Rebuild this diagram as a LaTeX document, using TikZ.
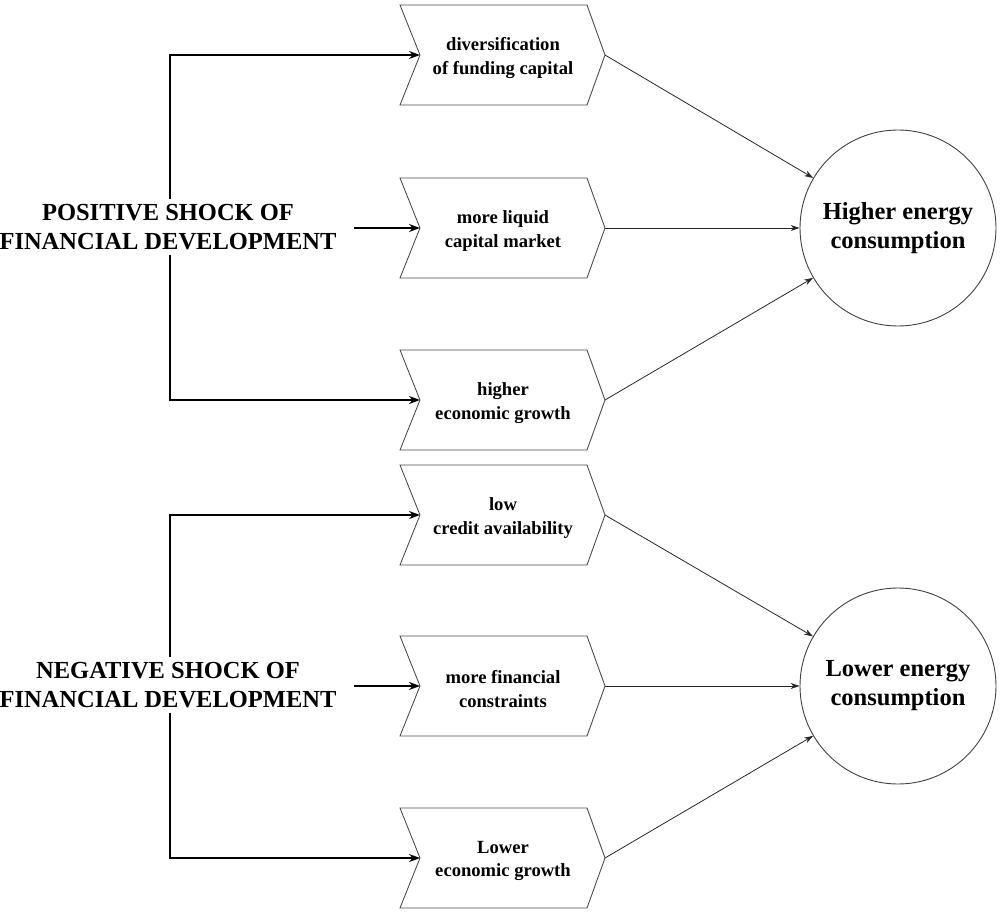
\documentclass[tikz,border=0pt]{standalone}
\usepackage{fontspec}
\setmainfont{Liberation Serif}
\usetikzlibrary{arrows.meta}
\tikzset{
  chevline/.style={draw=black!70, line width=0.9pt, line join=miter},
  chevtext/.style={align=center, font=\bfseries\fontsize{18.6}{23.5}\selectfont, inner sep=0pt},
  shocktext/.style={align=center, font=\bfseries\fontsize{24.5}{29}\selectfont, inner sep=5pt},
  outcome/.style={circle, draw=black!75, line width=0.9pt, minimum size=196pt, align=center, font=\bfseries\fontsize{24.5}{29}\selectfont},
  leftarrow/.style={line width=1.6pt, -{Stealth[length=11pt,width=8pt]}},
  rightarrow/.style={line width=0.8pt, draw=black!85, -{Stealth[length=9pt,width=6pt]}}
}
\newcommand\chevronbox[3]{%
  \draw[chevline] (400,#2-50) -- (587,#2-50) -- (605,#2) -- (587,#2+50) -- (400,#2+50) -- (420,#2) -- cycle;
  \node[chevtext] (#1) at (503,#2+3) {#3};
  \coordinate (#1in) at (420,#2);
  \coordinate (#1out) at (605,#2);
}
\begin{document}
\begin{tikzpicture}[x=1pt,y=-1pt]
\useasboundingbox (0,0) rectangle (1002,916);
% chevrons
\chevronbox{c1}{55}{diversification\\of funding capital}
\chevronbox{c2}{228}{more liquid\\capital market}
\chevronbox{c3}{400}{higher\\economic growth}
\chevronbox{c4}{515}{low\\credit availability}
\chevronbox{c5}{686}{more financial\\constraints}
\chevronbox{c6}{858}{Lower\\economic growth}
% shock nodes
\node[shocktext] (pos) at (168,227) {POSITIVE SHOCK OF\\FINANCIAL DEVELOPMENT};
\node[shocktext] (neg) at (168,685) {NEGATIVE SHOCK OF\\FINANCIAL DEVELOPMENT};
% outcomes
\node[outcome] (hi) at (898,228) {Higher energy\\consumption};
\node[outcome] (lo) at (898,686) {Lower energy\\consumption};
% left connectors
\draw[leftarrow] ([xshift=2pt]pos.north) |- (c1in);
\draw[leftarrow] ([xshift=12pt,yshift=-1pt]pos.east) -- (c2in);
\draw[leftarrow] ([xshift=2pt]pos.south) |- (c3in);
\draw[leftarrow] ([xshift=2pt]neg.north) |- (c4in);
\draw[leftarrow] ([xshift=12pt,yshift=-1pt]neg.east) -- (c5in);
\draw[leftarrow] ([xshift=2pt]neg.south) |- (c6in);
% right connectors
\draw[rightarrow] (c1out) -- (hi);
\draw[rightarrow] (c2out) -- (hi);
\draw[rightarrow] (c3out) -- (hi);
\draw[rightarrow] (c4out) -- (lo);
\draw[rightarrow] (c5out) -- (lo);
\draw[rightarrow] (c6out) -- (lo);
\end{tikzpicture}
\end{document}
